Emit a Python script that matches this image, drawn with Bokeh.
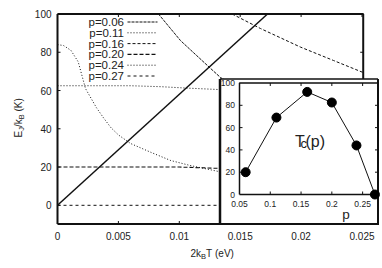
import math
from bokeh.plotting import figure
from bokeh.models import Range1d
from bokeh.embed import file_html
from bokeh.resources import INLINE
from bokeh.core.properties import value

# ---------------- data ----------------
legend_labels = ["p=0.06", "p=0.11", "p=0.16", "p=0.20", "p=0.24", "p=0.27"]
x_ticks = [0, 0.005, 0.01, 0.015, 0.02, 0.025]
x_tick_labels = ["0", "0.005", "0.01", "0.015", "0.02", "0.025"]
y_ticks = [0, 20, 40, 60, 80, 100]
y_tick_labels = ["0", "20", "40", "60", "80", "100"]

diag_x = [0.0, 0.01724]
diag_y = [0.0, 100.0]

e006_x = [0.00829, 0.0101, 0.01232, 0.01338, 0.016, 0.020, 0.025]
e006_y = [100.0, 86.1, 73.0, 66.8, 57.0, 46.0, 37.0]
e011_x = [0.0, 0.006, 0.0085, 0.0105, 0.0133, 0.020, 0.025]
e011_y = [62.5, 62.5, 62.0, 61.3, 60.5, 58.0, 56.0]
e016_x = [0.01434, 0.01667, 0.01995, 0.02266, 0.0251]
e016_y = [100.0, 92.4, 82.7, 75.7, 69.4]
e020_x = [0.0, 0.010, 0.0133, 0.025]
e020_y = [20.0, 20.0, 19.3, 18.0]
e024_x = [0.0, 0.0005, 0.0011, 0.0017, 0.0023, 0.0032, 0.0038, 0.0044, 0.005, 0.006, 0.0077, 0.0093, 0.0109, 0.0132, 0.016, 0.020, 0.025]
e024_y = [84.0, 83.5, 81.0, 75.0, 61.0, 51.0, 45.5, 40.5, 36.8, 32.3, 27.6, 23.4, 20.8, 17.7, 15.0, 12.0, 9.0]
e027_x = [0.0, 0.025]
e027_y = [0.0, 0.0]

p_vals = [0.06, 0.11, 0.16, 0.20, 0.24, 0.27]
tc_vals = [20.0, 69.0, 92.0, 82.5, 44.0, 0.0]
inset_x_ticks = [0.05, 0.1, 0.15, 0.2, 0.25]
inset_x_labels = ["0.05", "0.1", "0.15", "0.2", "0.25"]
inset_y_ticks = [0, 20, 40, 60, 80, 100]
inset_y_labels = ["0", "20", "40", "60", "80", "100"]

# ---------------- layout (pixels on the page) ----------------
W, H = 382, 268
SX = 0.025 / (361.5 - 57.0)          # main x: 0 at px 57, 0.025 at px 361.5
SY = 100.0 / (204.8 - 13.5)          # main y: 0 at px 204.8, 100 at px 13.5

def mx(px):
    return (px - 57.0) * SX

def my(px):
    return (204.8 - px) * SY

def ix(px):                          # inset x: 0.05 at px 239, 0.275 at px 377.5
    return 0.05 + (px - 239.0) * 0.225 / 138.5

def iy(px):                          # inset y: 0 at px 194, 100 at px 82.5
    return (194.0 - px) * 100.0 / 111.5

FONT = "Liberation Sans"
INK = "#111111"
TXT = "#222222"

p = figure(width=W, height=H, x_range=Range1d(mx(0), mx(W)), y_range=Range1d(my(H), my(0)),
           output_backend="svg", toolbar_location=None, tools="",
           min_border=0, min_border_left=0, min_border_right=0,
           min_border_top=0, min_border_bottom=0)
p.extra_x_ranges = {"ix": Range1d(ix(0), ix(W))}
p.extra_y_ranges = {"iy": Range1d(iy(H), iy(0))}
p.axis.visible = False
p.xaxis.visible = False
p.yaxis.visible = False
p.grid.visible = False
p.outline_line_color = None
p.background_fill_color = "white"
p.border_fill_color = "white"

def txt(xs, ys, labels, size, align="left", baseline="alphabetic", angle=0.0, **kw):
    p.text(x=xs, y=ys, text=labels, angle=angle, text_align=align, text_baseline=baseline,
           text_font=value(FONT), text_font_size=size, text_color=TXT, **kw)

# ---------------- main curves ----------------
styles = [("3 1", 1.0), ("1 2", 1.0), ("3 2", 1.0), ("4 2", 1.1), ("1 2", 1.0), ("3 3", 1.0)]
curves = [(e006_x, e006_y), (e011_x, e011_y), (e016_x, e016_y),
          (e020_x, e020_y), (e024_x, e024_y), (e027_x, e027_y)]
for (cx, cy), (dash, lw) in zip(curves, styles):
    p.line(cx, cy, line_color=INK, line_width=lw, line_dash=dash)
p.line(diag_x, diag_y, line_color=INK, line_width=1.5)

# legend: text, then sample (gnuplot style)
rows = [21.5 + 10.8 * i for i in range(len(legend_labels))]
txt([mx(123.5)] * len(rows), [my(r) for r in rows], legend_labels, "11.5px",
    align="right", baseline="middle")
for r, (dash, lw) in zip(rows, styles):
    p.line([mx(127), mx(157)], [my(r), my(r)], line_color=INK, line_width=lw, line_dash=dash)

# main frame: top, right, mirror ticks, inward ticks
xr = 0.0251
ybot = my(223.5)
tx = 3 * SX
ty = 3 * SY
p.line([0, xr, xr], [100, 100, ybot], line_color=INK, line_width=2)
p.segment(x0=x_ticks[1:], y0=[100] * 5, x1=x_ticks[1:], y1=[100 - ty] * 5, line_color=INK)
p.segment(x0=x_ticks[1:], y0=[ybot] * 5, x1=x_ticks[1:], y1=[ybot + ty] * 5, line_color=INK)
p.segment(x0=[0] * 6, y0=y_ticks, x1=[tx] * 6, y1=y_ticks, line_color=INK)
p.segment(x0=[xr] * 4, y0=y_ticks[1:5], x1=[xr - tx] * 4, y1=y_ticks[1:5], line_color=INK)

# tick labels
txt(x_ticks, [my(235.5)] * 6, x_tick_labels, "10px", align="center", baseline="middle")
txt([mx(51)] * 6, y_ticks, y_tick_labels, "10px", align="right", baseline="middle")

# axis titles (with subscripts)
txt([mx(190)], [my(253)], ["2k"], "10px")
txt([mx(200.6)], [my(255.5)], ["B"], "7.5px")
txt([mx(205.6)], [my(253)], ["T"], "10px")
txt([mx(214.5)], [my(253)], ["(eV)"], "10px")
a = math.pi / 2
txt([mx(18)], [my(137)], ["E"], "10px", angle=a)
txt([mx(20.5)], [my(130.3)], ["J"], "7.5px", angle=a)
txt([mx(18)], [my(126.6)], ["/k"], "10px", angle=a)
txt([mx(20.5)], [my(118.8)], ["B"], "7.5px", angle=a)
txt([mx(18)], [my(111.0)], ["(K)"], "10px", angle=a)

# ---------------- inset ----------------
IR = dict(x_range_name="ix", y_range_name="iy")
ox0, ox1, oy0, oy1 = ix(219.5), 0.275, iy(223.5), iy(78.5)
p.quad(left=[ox0], right=[ox1], bottom=[oy0], top=[oy1], fill_color="white",
       line_color=None, **IR)
p.line([ox0, ox0], [oy0, oy1], line_color=INK, line_width=2.5, **IR)
p.line([ox0, ox1], [oy1, oy1], line_color=INK, line_width=1.5, **IR)
p.line([0.275, 0.275], [oy0, oy1], line_color=INK, line_width=2, **IR)
# main bottom axis line drawn over the inset box
p.line([0, mx(378.5)], [ybot, ybot], line_color=INK, line_width=2)
p.line([0, 0], [ybot, 100], line_color=INK, line_width=2)

# inset plot frame and ticks
p.line([0.05, 0.05, 0.275, 0.275, 0.05], [0, 100, 100, 0, 0], line_color=INK, line_width=1.5, **IR)
itx = 3 * 0.225 / 138.5
ity = 3 * 100.0 / 111.5
p.segment(x0=inset_x_ticks[1:], y0=[0] * 4, x1=inset_x_ticks[1:], y1=[ity] * 4, line_color=INK, **IR)
p.segment(x0=inset_x_ticks[1:], y0=[100] * 4, x1=inset_x_ticks[1:], y1=[100 - ity] * 4, line_color=INK, **IR)
p.segment(x0=[0.05] * 4, y0=inset_y_ticks[1:5], x1=[0.05 + itx] * 4, y1=inset_y_ticks[1:5], line_color=INK, **IR)
p.segment(x0=[0.275] * 4, y0=inset_y_ticks[1:5], x1=[0.275 - itx] * 4, y1=inset_y_ticks[1:5], line_color=INK, **IR)
txt(inset_x_ticks, [iy(203.5)] * 5, inset_x_labels, "8.5px", align="center", baseline="middle", **IR)
txt([ix(234.5)] * 6, inset_y_ticks, inset_y_labels, "8.5px", align="right", baseline="middle", **IR)
txt([ix(345.5)], [iy(214)], ["p"], "13.5px", align="center", **IR)
txt([ix(294.5)], [iy(140.7)], ["T"], "16px", **IR)
txt([ix(300)], [iy(143)], ["c"], "12.8px", **IR)
txt([ix(305)], [iy(140.7)], ["(p)"], "16px", **IR)
p.line(p_vals, tc_vals, line_color=INK, line_width=1, **IR)
p.scatter(p_vals, tc_vals, size=9, fill_color="black", line_color="black", **IR)

open("out.html", "w").write(file_html(p, INLINE))
